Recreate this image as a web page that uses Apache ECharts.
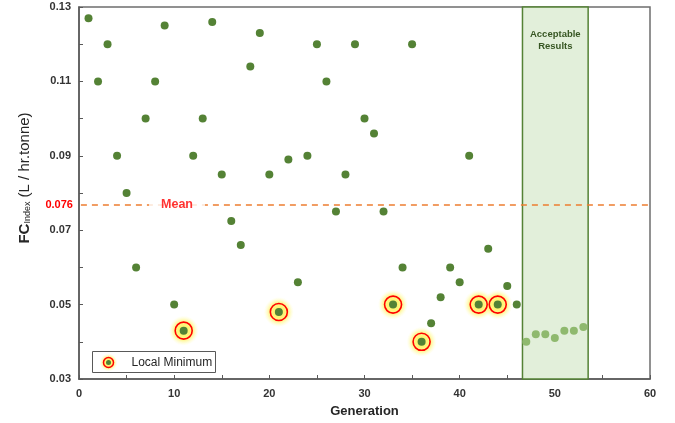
<!DOCTYPE html>
<html>
<head>
<meta charset="utf-8">
<script src="https://cdn.jsdelivr.net/npm/echarts@6/dist/echarts.min.js"></script>
<style>html,body{margin:0;padding:0;background:#fff;}#c{width:675px;height:423px;}</style>
</head>
<body>
<div id="c"></div>
<script>
const generation = [1,2,3,4,5,6,7,8,9,10,11,12,13,14,15,16,17,18,19,20,21,22,23,24,25,26,27,28,29,30,31,32,33,34,35,36,37,38,39,40,41,42,43,44,45,46,47,48,49,50,51,52,53];
const fcIndex = [0.127,0.110,0.120,0.090,0.080,0.060,0.100,0.110,0.125,0.050,
                 0.043,0.090,0.100,0.126,0.085,0.0725,0.066,0.114,0.123,0.085,
                 0.048,0.089,0.056,0.090,0.120,0.110,0.075,0.085,0.120,0.100,
                 0.096,0.075,0.050,0.060,0.120,0.040,0.045,0.052,0.060,0.056,
                 0.090,0.050,0.065,0.050,0.055,0.050,0.040,0.042,0.042,0.041,
                 0.043,0.043,0.044];
const localMinGen = [11,21,33,36,42,44];
const acceptableRange = [46.6, 53.5];
const meanValue = 0.0768;
const meanText = '0.076';
const meanLabelX = 10.3;
const xTicks = [0,10,20,30,40,50,60];
const yTicks = [0.03,0.05,0.07,0.09,0.11,0.13];

const pts = generation.map((g,i)=>[g, fcIndex[i]]);
const regular = pts.filter(p => p[0] < acceptableRange[0]);
const accepted = pts.filter(p => p[0] >= acceptableRange[0]);
const minima = pts.filter(p => localMinGen.includes(p[0]));

const chart = echarts.init(document.getElementById('c'));
const glow = () => new echarts.graphic.RadialGradient(0.5,0.5,0.5,[
  {offset:0,color:'rgba(255,235,40,1)'},
  {offset:0.6,color:'rgba(255,242,100,0.8)'},
  {offset:1,color:'rgba(255,255,190,0)'}
]);
const FF = 'Liberation Sans, Arial';
const labStyle = {color:'#333333', fontWeight:'bold', fontSize:11, fontFamily:FF};
chart.setOption({
  animation:false,
  grid:{left:79,right:25,top:7,bottom:44,show:true,borderColor:'#6e6e6e',borderWidth:1.5,backgroundColor:'transparent'},
  xAxis:{type:'value',min:0,max:60,interval:5,
    axisLine:{show:true,onZero:false,lineStyle:{color:'#595959',width:1.5}},
    axisTick:{show:true,inside:true,length:4,lineStyle:{color:'#595959'}},
    splitLine:{show:false},
    axisLabel:Object.assign({margin:9,formatter:v=>xTicks.includes(Math.round(v))?String(Math.round(v)):''},labStyle),
    name:'Generation',nameLocation:'middle',nameGap:26,
    nameTextStyle:{color:'#262626',fontWeight:'bold',fontSize:13,fontFamily:FF}
  },
  yAxis:{type:'value',min:0.03,max:0.13,interval:0.01,
    axisLine:{show:true,onZero:false,lineStyle:{color:'#595959',width:1.5}},
    axisTick:{show:true,inside:true,length:4,lineStyle:{color:'#595959'}},
    splitLine:{show:false},
    axisLabel:Object.assign({margin:8,formatter:v=>{const r=Math.round(v*100)/100;return yTicks.some(t=>Math.abs(t-r)<1e-9)?r.toFixed(2):'';}},labStyle),
    name:'{a|FC}{b|Index}{c| (L / hr.tonne)}',nameLocation:'middle',nameRotate:90,nameGap:47,
    nameTextStyle:{padding:[0,0,0,30],rich:{
      a:{fontSize:15,fontWeight:'bold',color:'#262626',fontFamily:FF},
      b:{fontSize:9,color:'#262626',verticalAlign:'bottom',padding:[6,0,0,0],fontFamily:FF},
      c:{fontSize:15,color:'#262626',fontFamily:FF}
    }}
  },
  series:[
    {type:'scatter',name:'accepted',data:accepted,symbolSize:8,z:3,
      itemStyle:{color:'#8fb96e',opacity:1},
      markArea:{silent:true,
        itemStyle:{color:'#e2efda',borderColor:'#548235',borderWidth:1.5},
        label:{show:true,position:'insideTop',distance:22,formatter:'Acceptable\nResults',
          color:'#375623',fontWeight:'bold',fontSize:9.5,lineHeight:12,fontFamily:FF},
        data:[[{xAxis:acceptableRange[0]},{xAxis:acceptableRange[1]}]]}
    },
    {type:'scatter',name:'regular',data:regular,symbolSize:8,z:5,
      itemStyle:{color:'#548235',opacity:1},
      markLine:{silent:true,symbol:['none','none'],
        lineStyle:{color:'#ed7d31',type:[6,5],width:1.5},
        label:{show:true,position:'start',distance:8,formatter:meanText,color:'#ff0000',fontWeight:'bold',fontSize:11,fontFamily:FF},
        data:[[{coord:[0.2,meanValue]},{coord:[59.8,meanValue]}]]}
    },
    {type:'scatter',name:'glow',data:minima,symbolSize:30,z:3,itemStyle:{color:glow(),opacity:1}},
    {type:'scatter',name:'ring',data:minima,symbolSize:17,z:4,
      itemStyle:{color:'rgba(255,250,150,0.4)',borderColor:'#ff0000',borderWidth:1.6,opacity:1}},
    {type:'scatter',name:'meanLabel',data:[[meanLabelX,meanValue]],symbolSize:1,z:6,silent:true,
      itemStyle:{color:'rgba(0,0,0,0)'},
      label:{show:true,position:'inside',formatter:'Mean',backgroundColor:'#ffffff',padding:[1,12],
        color:'#ff0000',fontWeight:'bold',fontSize:12.5,fontFamily:FF}}
  ],
  graphic:[
    {type:'group',left:92,top:351,children:[
      {type:'rect',shape:{x:0,y:0,width:123,height:21},style:{fill:'#fff',stroke:'#595959',lineWidth:1}},
      {type:'circle',shape:{cx:16,cy:11,r:9},style:{fill:glow()}},
      {type:'circle',shape:{cx:16,cy:11,r:5},style:{fill:'rgba(255,250,150,0.4)',stroke:'#ff0000',lineWidth:1.5}},
      {type:'circle',shape:{cx:16,cy:11,r:2.5},style:{fill:'#548235'}},
      {type:'text',x:39,y:11,style:{text:'Local Minimum',fill:'#262626',fontSize:12,fontFamily:FF,verticalAlign:'middle'}}
    ]}
  ]
});
</script>
</body>
</html>
